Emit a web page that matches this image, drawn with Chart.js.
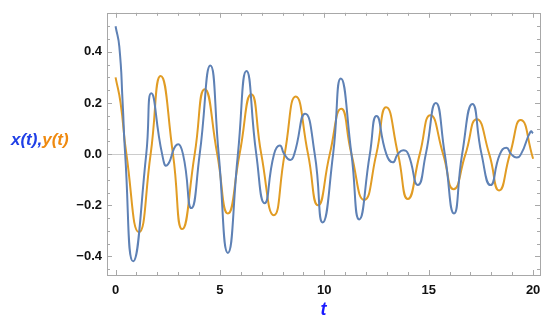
<!DOCTYPE html>
<html>
<head>
<meta charset="utf-8">
<script src="https://cdn.jsdelivr.net/npm/chart.js@4.4.1/dist/chart.umd.min.js"></script>
<style>
  html, body { margin: 0; padding: 0; background: #fff; }
  #wrap { position: relative; width: 550px; height: 323px; }
  #ylab { position: absolute; left: 11px; top: 130px; font: italic bold 17px "Liberation Sans", Arial, sans-serif; white-space: nowrap; }
  #ylab .bx { color: #1f3fe6; }
  #ylab .oy { color: #ef8a10; }
</style>
</head>
<body>
<div id="wrap">
  <canvas id="mycanvas" width="550" height="323"></canvas>
  <div id="ylab"><span class="bx">x(t),</span><span class="oy">y(t)</span></div>
</div>
<script>
// x(t) - blue curve (t, value)
var xT = [0, 0.18, 0.34, 0.46, 0.84, 1.47, 1.71, 2.23, 2.46, 2.94, 3.23, 3.63, 4.03, 4.54, 4.94, 5.38, 5.86, 6.27, 6.74, 7.14, 7.59, 7.87, 8.08, 8.37, 8.56, 9.08, 9.54, 9.92, 10.42, 10.79, 11.30, 11.67, 12.18, 12.50, 12.97, 13.28, 13.52, 13.78, 14.02, 14.48, 14.86, 15.34, 15.77, 16.21, 16.60, 17.09, 17.53, 17.96, 18.41, 18.72, 18.95, 19.21, 19.42, 19.88, 20];
var xV = [0.5, 0.42, 0.2, 0, -0.419, 0, 0.238, 0, -0.044, 0.037, 0, -0.211, 0, 0.346, 0, -0.386, 0, 0.325, 0, -0.192, 0, 0.034, 0, -0.023, 0, 0.158, 0, -0.267, 0, 0.296, 0, -0.255, 0, 0.149, 0, -0.032, 0, 0.015, 0, -0.121, 0, 0.2, 0, -0.232, 0, 0.196, 0, -0.121, 0, 0.025, 0, -0.013, 0, 0.088, 0.082];

// y(t) - orange curve
var yT = [0, 0.24, 0.52, 1.12, 1.68, 2.16, 2.75, 3.19, 3.79, 4.27, 4.87, 5.38, 5.94, 6.50, 6.98, 7.58, 8.10, 8.63, 9.22, 9.70, 10.26, 10.81, 11.30, 11.91, 12.49, 12.96, 13.53, 14.00, 14.57, 15.08, 15.69, 16.19, 16.76, 17.30, 17.90, 18.37, 18.89, 19.42, 20];
var yV = [0.3, 0.2, 0, -0.305, 0, 0.305, 0, -0.293, 0, 0.254, 0, -0.232, 0, 0.234, 0, -0.239, 0, 0.225, 0, -0.2, 0, 0.177, 0, -0.179, 0, 0.183, 0, -0.175, 0, 0.152, 0, -0.137, 0, 0.136, 0, -0.142, 0, 0.133, -0.018];

var xTickValues = [0, 5, 10, 15, 20];
var xTickLabels = ['0', '5', '10', '15', '20'];
var yTickValues = [-0.4, -0.2, 0, 0.2, 0.4];
var yTickLabels = ['\u22120.4', '\u22120.2', '0.0', '0.2', '0.4'];

function pts(ts, vs) {
  var out = [];
  for (var i in ts) out.push({x: ts[i], y: vs[i]});
  return out;
}

var frameColor = '#a8a8a8';

// Mathematica-like frame with inward ticks on all four sides
var framePlugin = {
  id: 'frame',
  beforeDatasetsDraw: function(chart) {
    var c = chart.ctx, a = chart.chartArea;
    var sx = chart.scales.x, sy = chart.scales.y;
    c.save();
    c.strokeStyle = frameColor;
    c.lineWidth = 1;
    c.beginPath();
    var v, p, len;
    for (v = 0; v <= 20; v += 1) {
      p = Math.round(sx.getPixelForValue(v)) + 0.5;
      len = (v % 5 === 0) ? 5 : 3;
      c.moveTo(p, a.bottom); c.lineTo(p, a.bottom - len);
      c.moveTo(p, a.top); c.lineTo(p, a.top + len);
    }
    for (var k = -9; k <= 11; k++) {
      v = k * 0.05;
      p = Math.round(sy.getPixelForValue(v)) + 0.5;
      len = (k % 4 === 0) ? 5 : 3;
      c.moveTo(a.left, p); c.lineTo(a.left + len, p);
      c.moveTo(a.right, p); c.lineTo(a.right - len, p);
    }
    c.stroke();
    c.strokeRect(Math.round(a.left) + 0.5, Math.round(a.top) + 0.5, Math.round(a.right - a.left), Math.round(a.bottom - a.top));
    c.restore();
  }
};

var ctx = document.getElementById('mycanvas');
var chart = new Chart(ctx, {
  type: 'line',
  data: {
    datasets: [
      {
        label: 'x(t)',
        data: pts(xT, xV),
        borderColor: '#5e81b5',
        borderWidth: 2,
        pointRadius: 0,
        tension: 0.55,
        fill: false
      },
      {
        label: 'y(t)',
        data: pts(yT, yV),
        borderColor: '#e19c24',
        borderWidth: 2,
        pointRadius: 0,
        tension: 0.55,
        fill: false
      }
    ]
  },
  options: {
    responsive: false,
    animation: false,
    devicePixelRatio: 1,
    layout: { padding: { top: 6, right: 10, left: 0, bottom: 0 } },
    plugins: { legend: { display: false }, tooltip: { enabled: false } },
    scales: {
      x: {
        type: 'linear',
        min: -0.41,
        max: 20.33,
        afterFit: function(s) { s.height = 48; },
        afterBuildTicks: function(s) { s.ticks = xTickValues.map(function(v){ return {value: v}; }); },
        grid: { display: false, drawTicks: false },
        border: { display: false },
        ticks: {
          padding: 8,
          color: '#111',
          font: { family: 'Liberation Sans', size: 13, weight: 'bold' },
          maxRotation: 0,
          callback: function(v) { return xTickLabels[xTickValues.indexOf(v)]; }
        },
        title: {
          display: true,
          text: 't',
          color: '#1a1aff',
          padding: { top: 0, bottom: 2 },
          font: { family: 'Liberation Sans', size: 18, weight: 'bold', style: 'italic' }
        }
      },
      y: {
        min: -0.4724,
        max: 0.5524,
        afterFit: function(s) { s.width = 107; },
        afterBuildTicks: function(s) { s.ticks = yTickValues.map(function(v){ return {value: v}; }); },
        grid: {
          drawTicks: false,
          color: function(c) { return (c.tick && c.tick.value === 0) ? '#cccccc' : 'rgba(0,0,0,0)'; }
        },
        border: { display: false },
        ticks: {
          padding: 5,
          color: '#111',
          font: { family: 'Liberation Sans', size: 13, weight: 'bold' },
          callback: function(v) { return yTickLabels[yTickValues.indexOf(v)]; }
        }
      }
    }
  },
  plugins: [framePlugin]
});
</script>
</body>
</html>
